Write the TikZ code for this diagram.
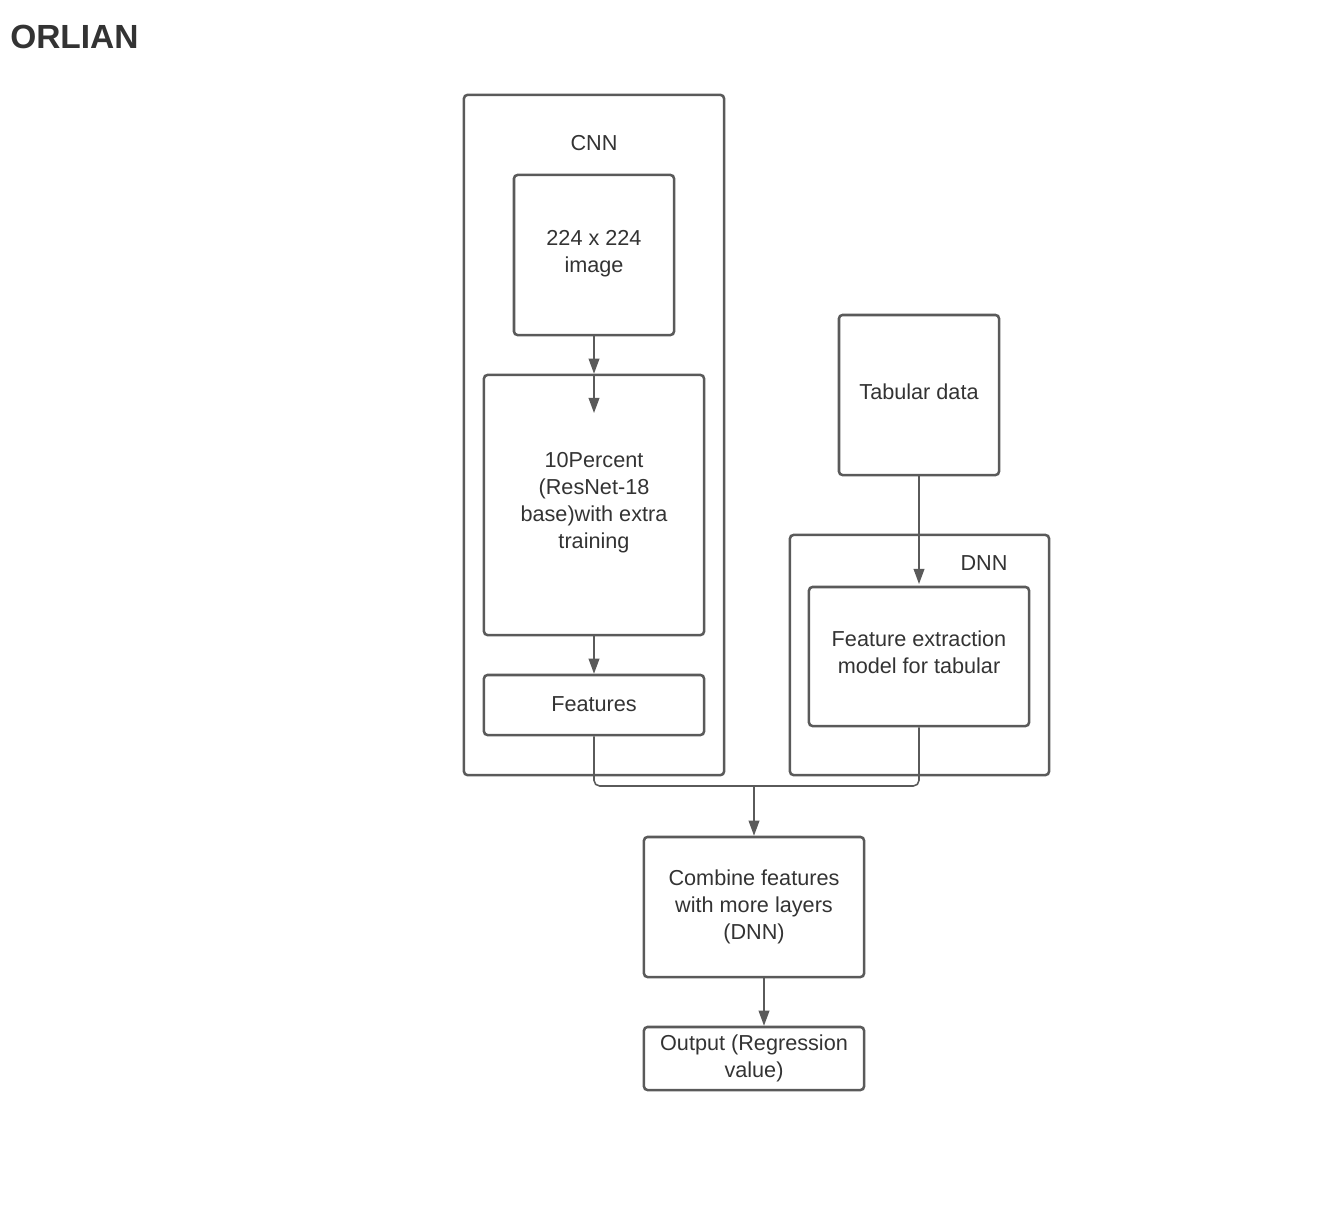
\documentclass[tikz,border=0pt]{standalone}
\usepackage{fontspec}
\setmainfont{Liberation Sans}
\usepackage{tikz}
\usetikzlibrary{arrows.meta,positioning,calc}
\definecolor{ln}{HTML}{5A5A5A}
\definecolor{tx}{HTML}{333333}

\begin{document}
\begin{tikzpicture}[
  x=0.025cm, y=-0.025cm,
  font=\fontsize{15.4}{19.2}\selectfont, text=tx,
  b/.style={draw=ln,line width=1.8pt,rounded corners=2.5pt,align=center,inner sep=0pt},
  l/.style={align=center},
  a/.style={draw=ln,line width=1.1pt,-{Triangle[length=0.38cm,width=0.27cm]}},
  c/.style={draw=ln,line width=1.1pt,rounded corners=4pt}]
\useasboundingbox (0,0) rectangle (1328,1204);
\node[anchor=west,inner sep=0pt,font=\fontsize{23.8}{28}\selectfont\bfseries] (title) at (10,37) {ORLIAN};
% CNN branch
\node[b,minimum width=6.5cm,minimum height=17cm] (cnn) at (594,435) {};
\node[l] (cnnl) at (594,143) {CNN};
\node[b,minimum width=4cm,minimum height=4cm] (img) at (594,255) {};
\node[l] (imgl) at (594,254) {224 x 224\\image};
\node[b,minimum width=5.5cm,minimum height=6.5cm] (res) at (594,505) {};
\node[l] (resl) at (594,503) {10Percent\\(ResNet-18\\base)with extra\\training};
\node[b,minimum width=5.5cm,minimum height=1.5cm] (feat) at (594,705) {};
\node[l] (featl) at (594,704) {Features};
% DNN branch
\node[b,minimum width=4cm,minimum height=4cm] (tab) at (919,395) {};
\node[l] (tabl) at (919,392) {Tabular data};
\node[b,minimum width=6.475cm,minimum height=6cm] (dnn) at (919.5,655) {};
\node[l] (dnnl) at (984,563) {DNN};
\node[b,minimum width=5.5cm,minimum height=3.475cm] (fex) at (919,656.5) {};
\node[l] (fexl) at (919,652) {Feature extraction\\model for tabular};
% head
\node[b,minimum width=5.5cm,minimum height=3.5cm] (comb) at (754,907) {};
\node[l] (combl) at (754,907) {Combine features\\with more layers\\(DNN)};
\node[b,minimum width=5.5cm,minimum height=1.575cm] (out) at (754,1058.5) {};
\node[l] (outl) at (754,1058.5) {Output (Regression\\value)};
\coordinate (resin) at (594,413);
\coordinate (fexin) at (919,584);
\coordinate (join) at (754,786);
% connectors
\draw[a] (img.south) -- (res.north);
\draw[a] (res.north) -- (resin);
\draw[a] (res.south) -- (feat.north);
\draw[a] (tab.south) -- (fexin);
\draw[c] (feat.south) |- (join);
\draw[c] (fex.south) |- (join);
\draw[a] (join) -- (comb.north);
\draw[a] ([xshift=0.25cm]comb.south) -- ([xshift=0.25cm]out.north);
\end{tikzpicture}
\end{document}
